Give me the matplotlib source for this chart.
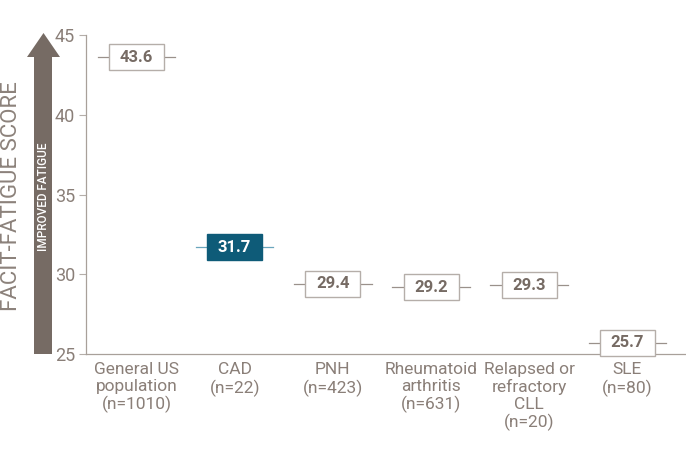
import matplotlib
matplotlib.use("Agg")
import matplotlib.pyplot as plt
from matplotlib.patches import Rectangle, Polygon

categories = ["General US\npopulation\n(n=1010)", "CAD\n(n=22)", "PNH\n(n=423)",
              "Rheumatoid\narthritis\n(n=631)", "Relapsed or\nrefractory\nCLL\n(n=20)", "SLE\n(n=80)"]
scores = [43.6, 31.7, 29.4, 29.2, 29.3, 25.7]
value_labels = ["43.6", "31.7", "29.4", "29.2", "29.3", "25.7"]
highlight = [False, True, False, False, False, False]
yticks = [25, 30, 35, 40, 45]

plt.rcParams['font.family'] = ['Roboto', 'DejaVu Sans']

W, H = 686, 453
fig = plt.figure(figsize=(W / 100, H / 100), dpi=100)
ax = fig.add_axes([86 / W, 1 - 354 / H, 1 - 86 / W, (354 - 35) / H])

grey_txt = "#8a7f78"
dark_txt = "#766b64"
edge = "#b5aea9"
teal = "#0e5b78"
teal_line = "#6aa6bd"

bw, bh, wl = 0.56, 1.63, 0.395
for i, (v, lab, hl) in enumerate(zip(scores, value_labels, highlight)):
    lc = teal_line if hl else "#9a918b"
    ax.plot([i - wl, i + wl], [v, v], color=lc, lw=0.9, zorder=2, clip_on=False)
    ax.add_patch(Rectangle((i - bw / 2, v - bh / 2), bw, bh,
                           facecolor=teal if hl else "white",
                           edgecolor=teal if hl else edge, lw=1.0, zorder=3, clip_on=False))
    ax.text(i, v, lab, ha="center", va="center", fontsize=12, fontweight="bold",
            color="white" if hl else dark_txt, zorder=4)

ax.set_xlim(-0.514, 5.596)
ax.set_ylim(25, 45)
ax.set_yticks(yticks)
ax.set_yticklabels([str(t) for t in yticks], fontsize=13, color=grey_txt)
ax.set_xticks(range(len(categories)))
ax.set_xticklabels(categories, fontsize=12.5, color=grey_txt, linespacing=1.15)
ax.tick_params(axis="x", length=0, pad=6)
ax.tick_params(axis="y", length=5, color=edge, width=0.8, pad=3)
for s in ["top", "right"]:
    ax.spines[s].set_visible(False)
for s in ["left", "bottom"]:
    ax.spines[s].set_color("#a8a09a")
    ax.spines[s].set_linewidth(0.9)

# arrow decoration
arrow_col = "#766b64"
pts = [(34, 354), (52, 354), (52, 57), (60, 57), (43.5, 33), (27, 57), (34, 57)]
fig.patches.append(Polygon([(x / W, 1 - y / H) for x, y in pts], closed=True,
                           transform=fig.transFigure, facecolor=arrow_col, edgecolor="none"))
fig.text(43.5 / W, 1 - 197 / H, "IMPROVED FATIGUE", rotation=90, ha="center", va="center",
         fontsize=8.5, fontweight="medium", color="white")
fig.text(12 / W, 1 - 196 / H, "FACIT-FATIGUE SCORE", rotation=90, ha="center", va="center",
         fontsize=16, color="#8c827b")

fig.savefig("out.png", dpi=100)
